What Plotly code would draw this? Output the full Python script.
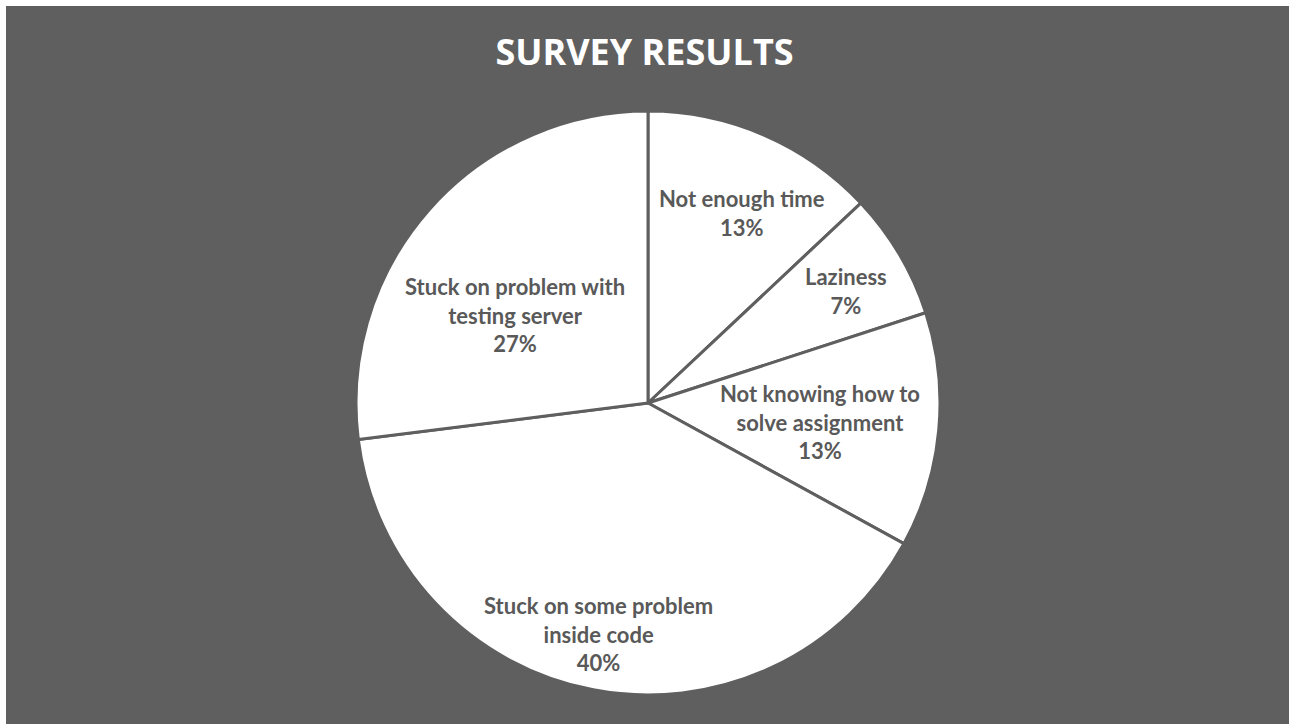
import math
import plotly.graph_objects as go

categories = [
    "Not enough time",
    "Laziness",
    "Not knowing how to solve assignment",
    "Stuck on some problem inside code",
    "Stuck on problem with testing server",
]
display_labels = [
    "Not enough time",
    "Laziness",
    "Not knowing how to<br>solve assignment",
    "Stuck on some problem<br>inside code",
    "Stuck on problem with<br>testing server",
]
percent_values = [13, 7, 13, 40, 27]

# layout: label placement (fraction of radius, angular shift in degrees from slice bisector)
label_radius = [0.726, 0.778, 0.593, 0.809, 0.546]
label_shift_deg = [2.9, 1.2, 0.9, 1.2, -7.9]

W, H = 1289, 724
BG = "#5f5f5f"
TEXT = "#595959"

cx, cy, r = 648, 403, 292

fig = go.Figure(
    go.Pie(
        labels=categories,
        values=percent_values,
        textinfo="none",
        sort=False,
        direction="clockwise",
        rotation=0,
        marker=dict(colors=["#ffffff"] * len(categories), line=dict(color=BG, width=3)),
        showlegend=False,
        hoverinfo="label+percent",
        domain=dict(
            x=[(cx - r) / W, (cx + r) / W],
            y=[(H - cy - r) / H, (H - cy + r) / H],
        ),
    )
)

total = sum(percent_values)
cum = 0
for lab, val, rf, sh in zip(display_labels, percent_values, label_radius, label_shift_deg):
    mid = (cum + val / 2) / total * 2 * math.pi + math.radians(sh)
    cum += val
    px = cx + rf * r * math.sin(mid)
    py = cy - rf * r * math.cos(mid)
    fig.add_annotation(
        xref="paper", yref="paper",
        x=px / W, y=(H - py) / H,
        xanchor="center", yanchor="middle",
        text=f"{lab}<br>{val}%",
        showarrow=False,
        align="center",
        font=dict(family="Lato", size=22, color=TEXT, weight="bold"),
    )

fig.add_shape(
    type="rect", xref="paper", yref="paper",
    x0=6 / W, x1=1, y0=0, y1=1 - 6 / H,
    fillcolor=BG, line=dict(width=0), layer="below",
)

fig.update_layout(
    width=W, height=H,
    margin=dict(l=0, r=0, t=0, b=0),
    paper_bgcolor="#ffffff",
    plot_bgcolor="#ffffff",
    title=dict(
        text="SURVEY RESULTS",
        x=0.5, xanchor="center",
        y=1 - 52 / H, yanchor="middle",
        font=dict(family="Open Sans", size=36, color="#ffffff", weight="bold"),
    ),
)

fig.write_html("out.html")
